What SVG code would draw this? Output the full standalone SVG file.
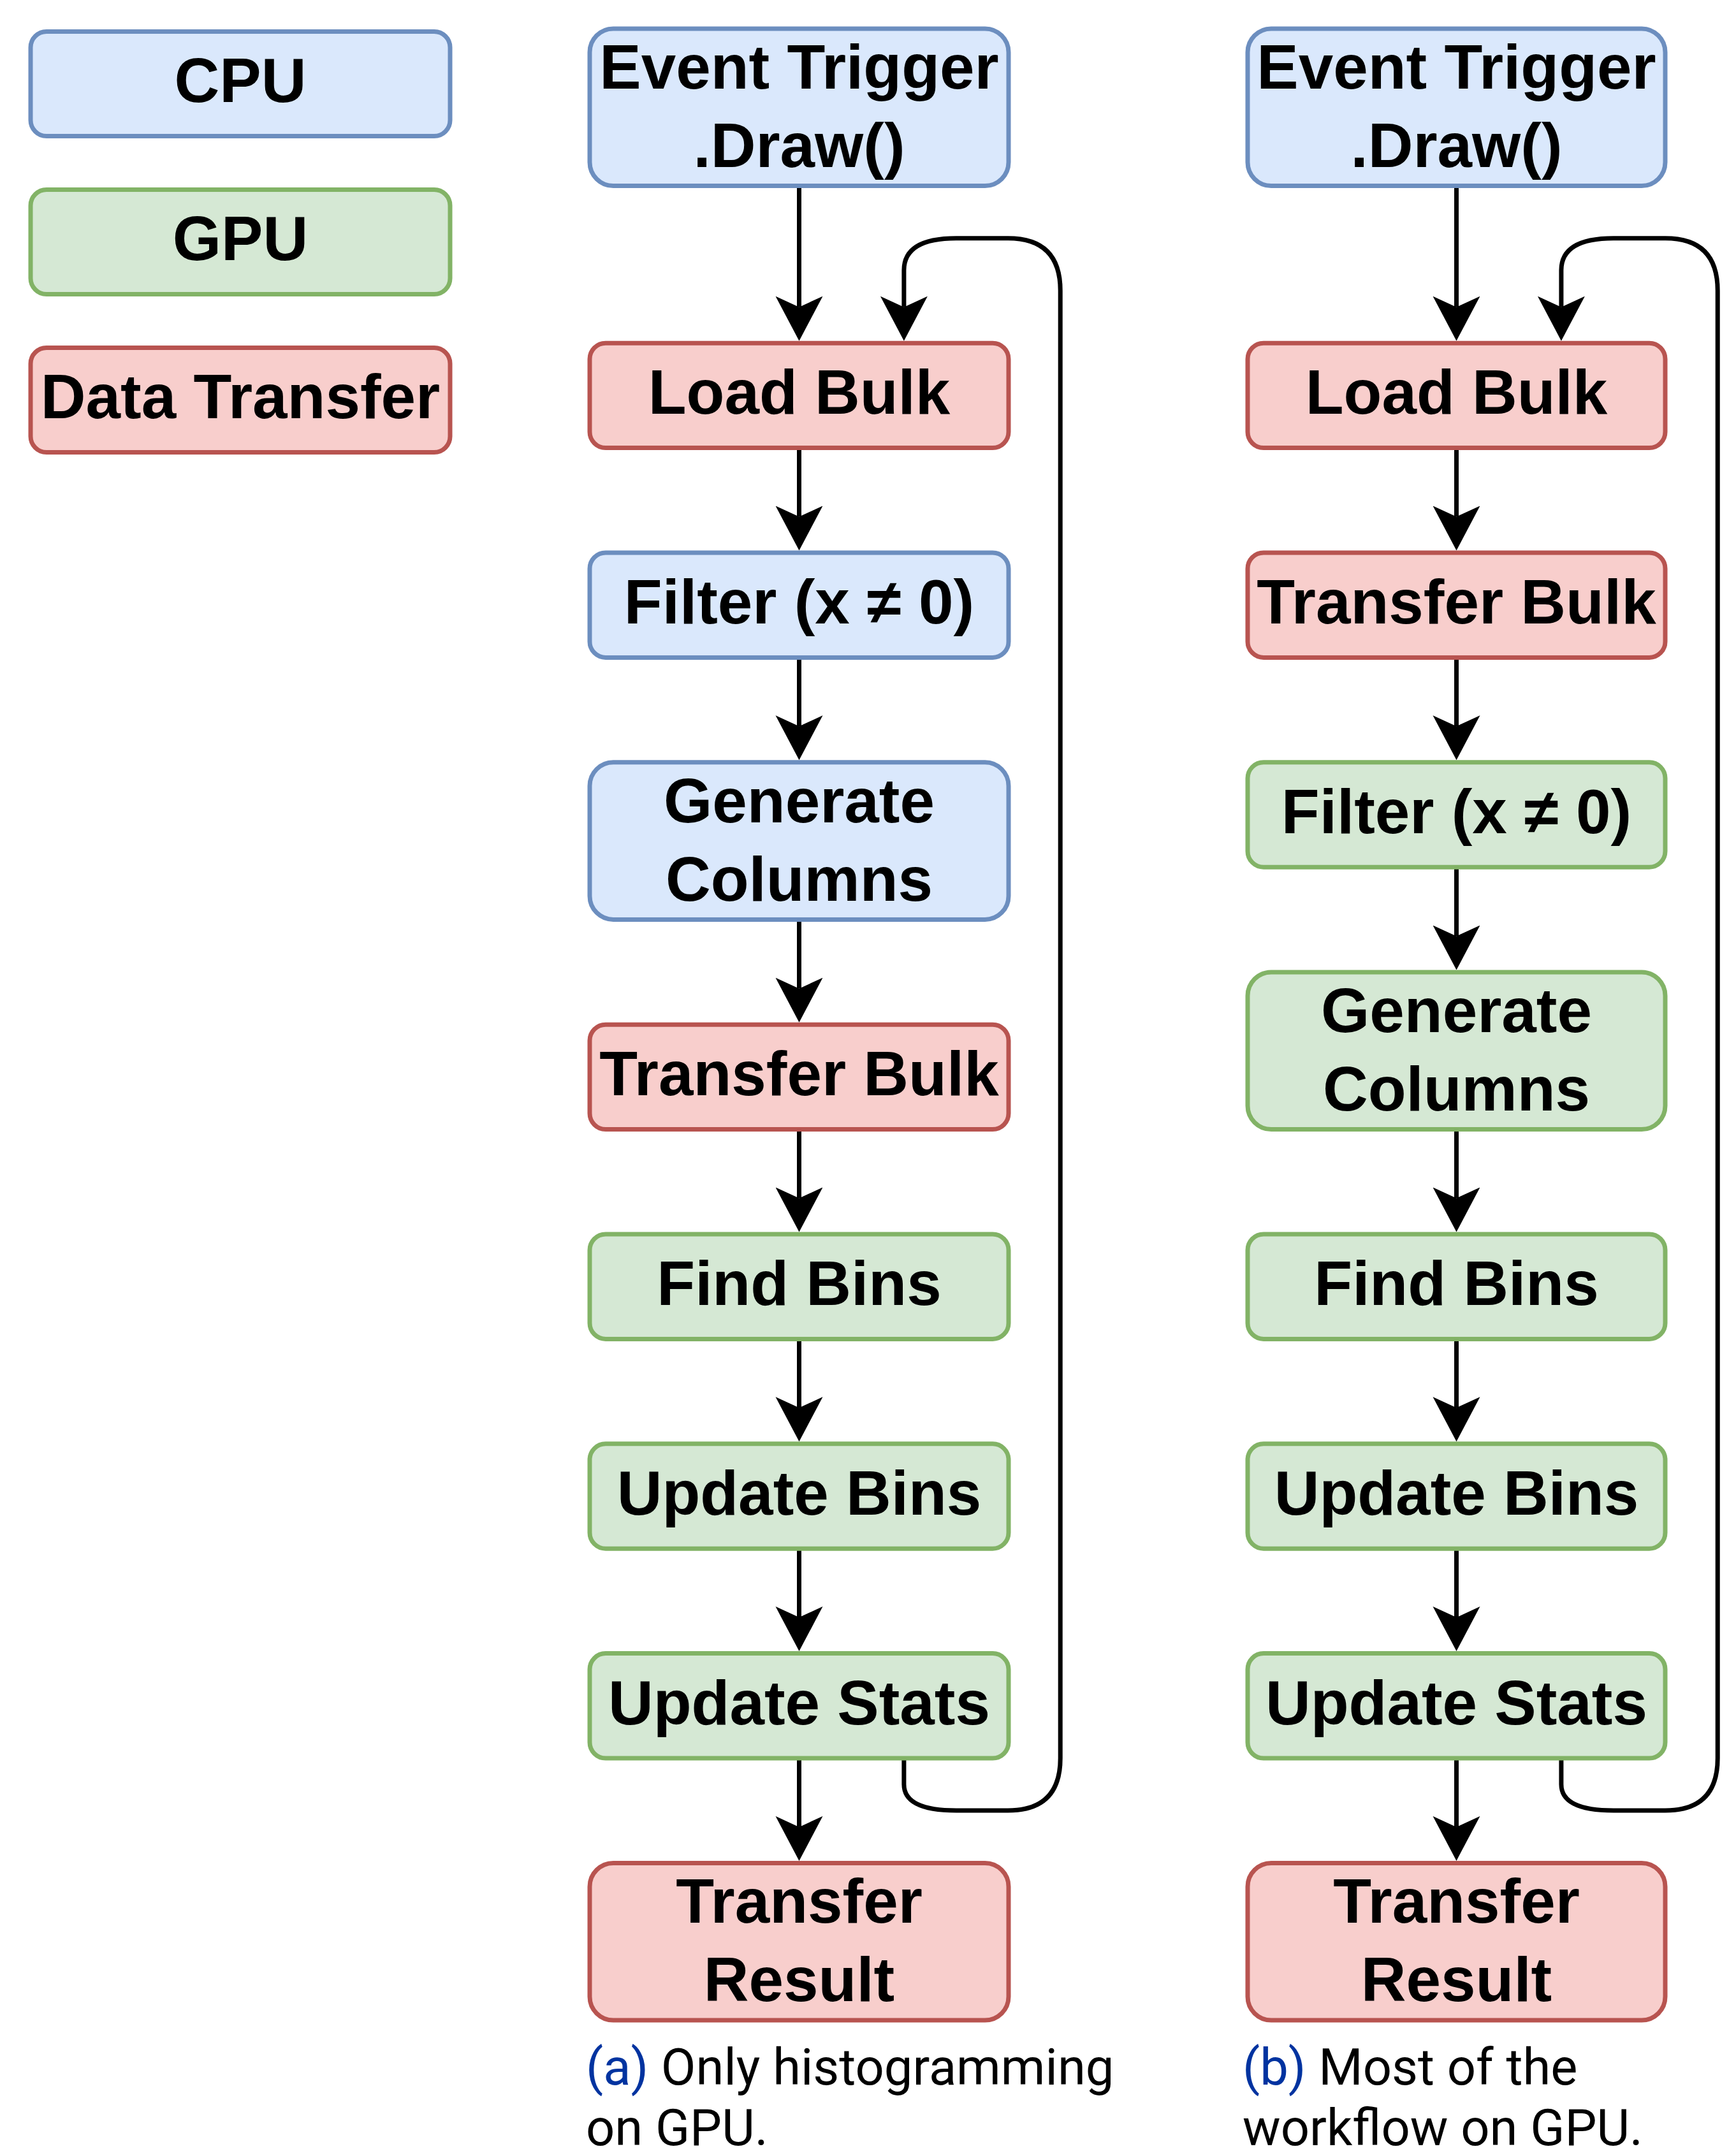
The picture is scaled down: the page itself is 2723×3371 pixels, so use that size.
<svg xmlns="http://www.w3.org/2000/svg" width="2723" height="3371" viewBox="0 0 2723 3371">
  <defs>
    <style>
      .cpu { fill: #dae8fc; stroke: #6c8ebf; stroke-width: 7; }
      .gpu { fill: #d5e8d4; stroke: #82b366; stroke-width: 7; }
      .dt  { fill: #f8cecc; stroke: #b85450; stroke-width: 7; }
      .lbl { font-family: "Liberation Sans", Arial, sans-serif; font-weight: bold; font-size: 98px; fill: #000; text-anchor: middle; }
      .edge { fill: none; stroke: #000; stroke-width: 7; marker-end: url(#arrow); }
      .cap { font-family: Roboto, "Noto Sans", sans-serif; font-size: 79.5px; fill: #000; }
      .tag { fill: #0033a0; }
    </style>
    <marker id="arrow" viewBox="0 -40 72 80" markerWidth="72" markerHeight="80" markerUnits="userSpaceOnUse" refX="17" refY="0" orient="auto">
      <path d="M0,-37 L70,0 L0,37 L17,0 Z" fill="#000"/>
    </marker>
  </defs>
  <rect width="2723" height="3371" fill="#fff"/>

  <!-- connectors -->
  <g id="connectors">
    <!-- column a -->
    <path class="edge" d="M1253.5 291.6 V481.7"/>
    <path class="edge" d="M1253.5 702.6 V810.5"/>
    <path class="edge" d="M1253.5 1031.4 V1139.3"/>
    <path class="edge" d="M1253.5 1442.4 V1550.7"/>
    <path class="edge" d="M1253.5 1771.6 V1879.5"/>
    <path class="edge" d="M1253.5 2100.4 V2208.3"/>
    <path class="edge" d="M1253.5 2429.2 V2537.1"/>
    <path class="edge" d="M1253.5 2758 V2865.9"/>
    <path class="edge" d="M1417.9 2758 L1417.9 2799 Q1417.9 2840 1500 2840 L1581 2840 Q1663.2 2840 1663.2 2758 L1663.2 456 Q1663.2 373.8 1581 373.8 L1500 373.8 Q1417.9 373.8 1417.9 424 L1417.9 481.7"/>
    <!-- column b -->
    <path class="edge" d="M2284.5 291.6 V481.7"/>
    <path class="edge" d="M2284.5 702.6 V810.5"/>
    <path class="edge" d="M2284.5 1031.4 V1139.3"/>
    <path class="edge" d="M2284.5 1360.2 V1468.5"/>
    <path class="edge" d="M2284.5 1771.6 V1879.5"/>
    <path class="edge" d="M2284.5 2100.4 V2208.3"/>
    <path class="edge" d="M2284.5 2429.2 V2537.1"/>
    <path class="edge" d="M2284.5 2758 V2865.9"/>
    <path class="edge" d="M2448.9 2758 L2448.9 2799 Q2448.9 2840 2531 2840 L2612 2840 Q2694.2 2840 2694.2 2758 L2694.2 456 Q2694.2 373.8 2612 373.8 L2531 373.8 Q2448.9 373.8 2448.9 424 L2448.9 481.7"/>
  </g>

  <!-- legend -->
  <g id="legend-cpu">
    <rect class="cpu" x="48" y="49.5" width="658" height="164" rx="25"/>
    <text class="lbl" x="377" y="160">CPU</text>
  </g>
  <g id="legend-gpu">
    <rect class="gpu" x="48" y="297.5" width="658" height="164" rx="25"/>
    <text class="lbl" x="377" y="408">GPU</text>
  </g>
  <g id="legend-dt">
    <rect class="dt" x="48" y="545.5" width="658" height="164" rx="25"/>
    <text class="lbl" x="377" y="656">Data Transfer</text>
  </g>

  <!-- column a: only histogramming on GPU -->
  <g id="a-event">
    <rect class="cpu" x="925" y="45" width="657" height="246.6" rx="37"/>
    <text class="lbl" x="1253.5" y="139">Event Trigger</text>
    <text class="lbl" x="1253.5" y="262">.Draw()</text>
  </g>
  <g id="a-load">
    <rect class="dt" x="925" y="538.2" width="657" height="164.4" rx="25"/>
    <text class="lbl" x="1253.5" y="649">Load Bulk</text>
  </g>
  <g id="a-filter">
    <rect class="cpu" x="925" y="867" width="657" height="164.4" rx="25"/>
    <text class="lbl" x="1253.5" y="978">Filter (x ≠ 0)</text>
  </g>
  <g id="a-generate">
    <rect class="cpu" x="925" y="1195.8" width="657" height="246.6" rx="37"/>
    <text class="lbl" x="1253.5" y="1289.6">Generate</text>
    <text class="lbl" x="1253.5" y="1412.6">Columns</text>
  </g>
  <g id="a-transfer">
    <rect class="dt" x="925" y="1607.2" width="657" height="164.4" rx="25"/>
    <text class="lbl" x="1253.5" y="1718">Transfer Bulk</text>
  </g>
  <g id="a-findbins">
    <rect class="gpu" x="925" y="1936" width="657" height="164.4" rx="25"/>
    <text class="lbl" x="1253.5" y="2047">Find Bins</text>
  </g>
  <g id="a-updatebins">
    <rect class="gpu" x="925" y="2264.8" width="657" height="164.4" rx="25"/>
    <text class="lbl" x="1253.5" y="2376">Update Bins</text>
  </g>
  <g id="a-updatestats">
    <rect class="gpu" x="925" y="2593.6" width="657" height="164.4" rx="25"/>
    <text class="lbl" x="1253.5" y="2705">Update Stats</text>
  </g>
  <g id="a-result">
    <rect class="dt" x="925" y="2922.4" width="657" height="246.6" rx="37"/>
    <text class="lbl" x="1253.5" y="3016">Transfer</text>
    <text class="lbl" x="1253.5" y="3139">Result</text>
  </g>
  <g id="a-caption">
    <text class="cap" x="919" y="3270"><tspan class="tag">(a)</tspan> Only histogramming</text>
    <text class="cap" x="919" y="3365">on GPU.</text>
  </g>

  <!-- column b: most of the workflow on GPU -->
  <g id="b-event">
    <rect class="cpu" x="1957" y="45" width="655" height="246.6" rx="37"/>
    <text class="lbl" x="2284.5" y="139">Event Trigger</text>
    <text class="lbl" x="2284.5" y="262">.Draw()</text>
  </g>
  <g id="b-load">
    <rect class="dt" x="1957" y="538.2" width="655" height="164.4" rx="25"/>
    <text class="lbl" x="2284.5" y="649">Load Bulk</text>
  </g>
  <g id="b-transfer">
    <rect class="dt" x="1957" y="867" width="655" height="164.4" rx="25"/>
    <text class="lbl" x="2284.5" y="978">Transfer Bulk</text>
  </g>
  <g id="b-filter">
    <rect class="gpu" x="1957" y="1195.8" width="655" height="164.4" rx="25"/>
    <text class="lbl" x="2284.5" y="1307">Filter (x ≠ 0)</text>
  </g>
  <g id="b-generate">
    <rect class="gpu" x="1957" y="1525" width="655" height="246.6" rx="37"/>
    <text class="lbl" x="2284.5" y="1618.8">Generate</text>
    <text class="lbl" x="2284.5" y="1741.8">Columns</text>
  </g>
  <g id="b-findbins">
    <rect class="gpu" x="1957" y="1936" width="655" height="164.4" rx="25"/>
    <text class="lbl" x="2284.5" y="2047">Find Bins</text>
  </g>
  <g id="b-updatebins">
    <rect class="gpu" x="1957" y="2264.8" width="655" height="164.4" rx="25"/>
    <text class="lbl" x="2284.5" y="2376">Update Bins</text>
  </g>
  <g id="b-updatestats">
    <rect class="gpu" x="1957" y="2593.6" width="655" height="164.4" rx="25"/>
    <text class="lbl" x="2284.5" y="2705">Update Stats</text>
  </g>
  <g id="b-result">
    <rect class="dt" x="1957" y="2922.4" width="655" height="246.6" rx="37"/>
    <text class="lbl" x="2284.5" y="3016">Transfer</text>
    <text class="lbl" x="2284.5" y="3139">Result</text>
  </g>
  <g id="b-caption">
    <text class="cap" x="1949" y="3270"><tspan class="tag">(b)</tspan> Most of the</text>
    <text class="cap" x="1949" y="3365">workflow on GPU.</text>
  </g>
</svg>
